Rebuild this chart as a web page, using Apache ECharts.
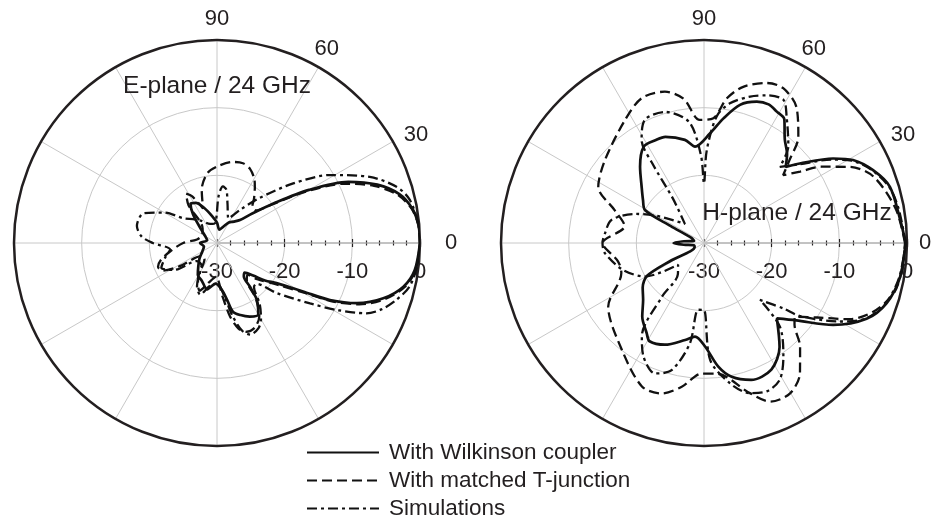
<!DOCTYPE html>
<html>
<head>
<meta charset="utf-8">
<script src="https://cdn.jsdelivr.net/npm/echarts@6/dist/echarts.min.js"></script>
<style>
  html, body { margin: 0; padding: 0; background: #fff; }
  #chart { width: 935px; height: 523px; }
</style>
</head>
<body>
<div id="chart"></div>
<script>
// [angle (deg), level (dB)] pairs
const angleLabels = [0, 30, 60, 90]
const radiusTicks = [-30, -20, -10, 0]
const seriesNames = ['With Wilkinson coupler', 'With matched T-junction', 'Simulations']

// E-plane / 24 GHz
const eWilkinson = [
  [0, 0], [5, -0.1], [10, -0.7], [15, -2.1], [20, -4.8], [25, -8.6], [30, -14.3], [35, -19.8],
  [40, -23.2], [45, -25.2], [52, -26], [60, -26.5], [70, -27.5], [80, -28], [90, -27], [100, -26],
  [110, -24.5], [118, -23.3], [124, -23], [130, -24.5], [140, -27], [150, -28], [165, -28.5],
  [180, -27.5], [195, -28], [210, -27.5], [222, -26.5], [232, -25.5], [239, -24.5], [248, -24],
  [258, -23], [268, -24], [276, -23], [280, -21.5], [283, -19.6], [288, -18.8], [294, -18.1],
  [300, -17.8], [305, -19.7], [307, -21.9], [309, -23.7], [313, -24], [318, -22.8], [322, -21],
  [326, -19.4], [330.6, -15.4], [333.2, -11.3], [336.7, -7.5], [341.6, -4.1], [346.8, -1.7],
  [352.2, -0.5], [360, 0]
]
const eTJunction = [
  [0, 0], [5, -0.1], [10, -0.8], [15, -2.4], [20, -5.3], [25, -9.3], [30, -14.8], [35, -20],
  [40, -22.5], [46, -22.5], [50, -21.5], [56, -20], [60, -19], [66, -18], [72, -17.6], [79, -17.8],
  [90, -18.7], [98, -19.6], [106, -21.8], [112, -24.5], [118, -22.2], [122, -21.4], [127, -23],
  [135, -27], [150, -27.5], [170, -27], [180, -25], [190, -23], [197, -21.3], [202, -20.6],
  [207, -21], [212, -23.6], [220, -27], [232, -27], [242, -24], [250, -22.5], [258, -24],
  [268, -25], [276, -22], [280, -19], [284, -17], [288, -16.2], [294, -16.3], [300, -17.5],
  [305, -20], [309, -23], [314, -23.5], [318, -22], [326, -18.8], [330.6, -14.8], [333.2, -10.8],
  [336.7, -7.1], [341.6, -3.8], [346.8, -1.5], [352.2, -0.4], [360, 0]
]
const eSimulation = [
  [0, 0], [5, -0.1], [12.6, -0.8], [17.4, -2.2], [23.4, -5.4], [31, -10.5], [38, -15.7], [47, -21],
  [55, -24], [65, -26], [75, -24], [80, -22], [84, -21.6], [88, -23], [95, -27], [110, -27],
  [125, -26], [135, -25], [143, -24], [150, -21], [158, -18.3], [168, -17.9], [175, -18.8],
  [180, -20.5], [188, -23], [196, -22], [204, -21], [212, -22.5], [222, -26], [235, -26],
  [245, -23], [252, -22], [260, -23.5], [270, -24], [278, -22], [282, -19], [286, -16.5],
  [290, -15.6], [296, -16], [300, -17], [305, -19], [310, -21.5], [314, -21.6], [320, -18.5],
  [327, -13.6], [331, -9.5], [334.8, -5.6], [338, -3.8], [342.4, -2.2], [347.4, -0.8], [355, -0.1],
  [360, 0]
]

// H-plane / 24 GHz
const hWilkinson = [
  [0, -0.2], [6.7, -0.8], [16.8, -1.3], [23.3, -2.8], [29.1, -4.8], [33.2, -7.2], [39.7, -11.6],
  [43, -13.5], [47, -12], [52, -10.6], [57, -8.2], [61, -7.8], [65, -7.4], [69.5, -7.7],
  [75.4, -8.9], [81.2, -11.4], [86.9, -13.8], [95.3, -15.7], [100.5, -14.5], [110, -13.3],
  [115, -13.2], [122, -13.2], [130, -15.3], [138, -17.6], [145, -19], [150.8, -20], [153, -24.5],
  [158, -28], [168, -28.5], [175, -27], [180, -25.5], [185, -27], [193, -28.5], [203, -28.5],
  [208, -24.5], [210, -20.3], [216, -18.8], [223, -17.7], [230, -15.8], [237.6, -14.2],
  [241, -13.4], [249, -13.9], [259, -15.4], [264.5, -16.1], [270.6, -14.7], [276.6, -11.6],
  [281.7, -9.8], [289, -8.6], [298, -8.8], [306, -11], [314, -14.5], [320, -12.2], [327.6, -7.4],
  [335, -3.5], [341.7, -1.6], [350, -0.6], [360, -0.2]
]
const hTJunction = [
  [0, -0.3], [10, -1.2], [21.4, -3.1], [27.6, -5.7], [33, -9.3], [36.6, -12.3], [40.6, -14.6],
  [44, -12.5], [48.4, -9], [55.8, -5.7], [62.9, -4.3], [68.6, -4.6], [75.9, -6.2], [81.1, -8.4],
  [85.7, -11.5], [92, -11.8], [98, -8.5], [104.5, -6.9], [113.3, -6.7], [122.7, -8.4],
  [140, -10.9], [152, -12.3], [160, -16], [168, -18], [180, -15], [192, -17], [200, -17],
  [213.6, -13], [232.4, -10.1], [246.6, -6.9], [254.3, -6.9], [261.2, -8.5], [269, -10.7],
  [275.6, -10.6], [287, -6.8], [292.6, -4.6], [299.8, -4.4], [306.4, -6.1], [312.8, -9.1],
  [318, -12], [321, -12.7], [326.6, -10], [332.4, -5.7], [337.9, -3], [345.1, -1], [352, -0.5],
  [360, -0.3]
]
const hSimulation = [
  [0, -0.2], [10, -0.8], [16.8, -1.4], [23.3, -2.9], [29.1, -5], [33.2, -7.5], [39.7, -11.8],
  [45.1, -14.1], [49, -11], [56.8, -7.7], [61, -5.8], [67, -6.3], [72.5, -7.3], [79.5, -9],
  [84.3, -11.2], [88.3, -16.3], [90, -21.2], [92, -17], [97, -12], [106.5, -9.8], [115.6, -9.8],
  [121.2, -12.2], [123, -16], [125, -22], [135, -26], [150, -22], [157, -19], [166, -15.9],
  [174.4, -15.3], [180, -15], [186, -15.3], [198.5, -17.4], [209.7, -20], [220, -25], [230, -24],
  [232, -19.9], [236.4, -13.4], [241.9, -11], [249.4, -9.4], [255.7, -10.6], [262, -15],
  [265, -20.1], [270, -20.1], [273, -12.7], [280.5, -8.9], [287, -6.8], [292.9, -6.2], [299, -6.9],
  [304.9, -9.5], [312.2, -13.3], [314.5, -18.2], [320.5, -14.8], [322.7, -12.2], [330, -6.8],
  [335, -3.6], [341.7, -1.7], [350, -0.7], [360, -0.2]
]

const ink = '#231f20'
const gridGray = '#c8c8c8'
const font = 'Liberation Sans, Arial, sans-serif'
const lineTypes = ['solid', [10, 5], [10, 4, 3, 4]]
const lineWidths = [2.7, 2.3, 2.3]
const centers = [[217, 243], [704, 243]]

function angleAxis(polarIndex, zeroPad) {
  const labelStyle = { fontSize: 22, fontFamily: font, color: ink }
  return {
    polarIndex,
    type: 'value',
    min: 0,
    max: 360,
    interval: 30,
    startAngle: 0,
    clockwise: false,
    z: 3,
    axisLine: { lineStyle: { color: ink, width: 2.5 } },
    axisTick: { show: false },
    axisLabel: {
      margin: -8,
      fontSize: 22,
      fontFamily: font,
      color: ink,
      formatter: v => (angleLabels.includes(v) ? '{a' + v + '|' + v + '}' : ''),
      rich: {
        a0: { ...labelStyle, padding: [0, 0, 0, zeroPad] },
        a30: { ...labelStyle, padding: [0, 0, 0, 18] },
        a60: { ...labelStyle, padding: [0, 0, 14, 0] },
        a90: { ...labelStyle, padding: [0, 0, 18, 0] }
      }
    },
    splitLine: { lineStyle: { color: gridGray, width: 1 } }
  }
}

function radiusAxis(polarIndex) {
  return {
    polarIndex,
    type: 'value',
    min: radiusTicks[0],
    max: radiusTicks[radiusTicks.length - 1],
    interval: 10,
    axisLine: { lineStyle: { color: '#bdbdbd', width: 2 } },
    axisTick: { show: true, length: 4, lineStyle: { color: ink, width: 1.2 } },
    minorTick: { show: true, splitNumber: 5, length: 2.5, lineStyle: { color: ink, width: 1.2 } },
    axisLabel: { fontSize: 22, fontFamily: font, color: ink, margin: -18, verticalAlign: 'top' },
    splitLine: { show: true, lineStyle: { color: [gridGray, gridGray, gridGray, 'rgba(0,0,0,0)'], width: 1 } },
    z: 2
  }
}

// second, invisible set of axes: only draws the other half of the crossing ticks
function hiddenAngleAxis(polarIndex) {
  return { polarIndex, type: 'value', min: 0, max: 360, startAngle: 0, clockwise: false, show: false }
}
function tickOnlyRadiusAxis(polarIndex) {
  return {
    polarIndex,
    type: 'value',
    min: radiusTicks[0],
    max: radiusTicks[radiusTicks.length - 1],
    interval: 10,
    axisLine: { show: false },
    axisLabel: { show: false },
    splitLine: { show: false },
    axisTick: { show: true, length: -4, lineStyle: { color: ink, width: 1.2 } },
    minorTick: { show: true, splitNumber: 5, length: -2.5, lineStyle: { color: ink, width: 1.2 } },
    z: 2
  }
}

function curve(name, idx, polarIndex, pts) {
  return {
    name,
    type: 'line',
    coordinateSystem: 'polar',
    polarIndex,
    data: pts.map(p => [p[1], p[0]]),
    symbol: 'none',
    smooth: 0.3,
    itemStyle: { color: '#111' },
    lineStyle: { color: '#111', width: lineWidths[idx], type: lineTypes[idx] },
    z: 5 - idx,
    animation: false
  }
}

const chart = echarts.init(document.getElementById('chart'))
chart.setOption({
  backgroundColor: '#fff',
  animation: false,
  polar: [
    { center: centers[0], radius: 203 },
    { center: centers[1], radius: 203 },
    { center: centers[0], radius: 203 },
    { center: centers[1], radius: 203 }
  ],
  angleAxis: [angleAxis(0, 33), angleAxis(1, 20), hiddenAngleAxis(2), hiddenAngleAxis(3)],
  radiusAxis: [radiusAxis(0), radiusAxis(1), tickOnlyRadiusAxis(2), tickOnlyRadiusAxis(3)],
  legend: {
    orient: 'vertical',
    left: 306,
    top: 441,
    height: 82,
    padding: 0,
    itemWidth: 72,
    itemHeight: 12,
    itemGap: 5,
    data: seriesNames,
    itemStyle: { opacity: 0 },
    textStyle: { fontSize: 22.5, fontFamily: font, color: ink, padding: [0, 0, 0, 5] }
  },
  graphic: [
    { type: 'text', x: 217, y: 86, style: { text: 'E-plane / 24 GHz', fill: ink, font: '24.5px ' + font, textAlign: 'center', textVerticalAlign: 'middle' }, z: 20 },
    { type: 'text', x: 797, y: 213, style: { text: 'H-plane / 24 GHz', fill: ink, font: '24.5px ' + font, textAlign: 'center', textVerticalAlign: 'middle' }, z: 20 }
  ],
  series: [
    curve(seriesNames[0], 0, 0, eWilkinson),
    curve(seriesNames[1], 1, 0, eTJunction),
    curve(seriesNames[2], 2, 0, eSimulation),
    curve(seriesNames[0], 0, 1, hWilkinson),
    curve(seriesNames[1], 1, 1, hTJunction),
    curve(seriesNames[2], 2, 1, hSimulation)
  ]
})
</script>
</body>
</html>
